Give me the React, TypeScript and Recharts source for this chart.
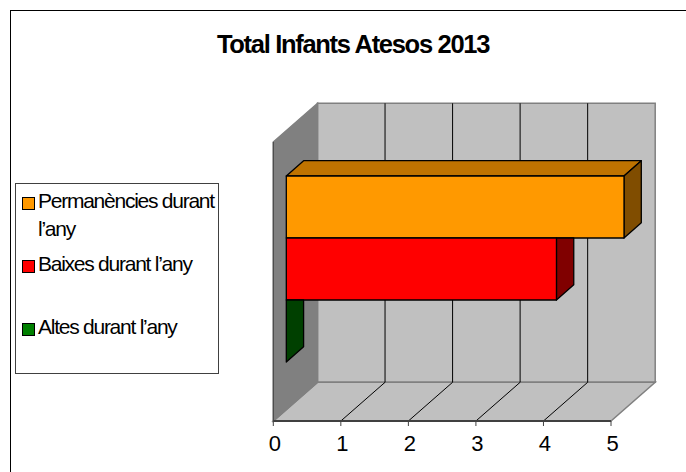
import React from "react";
import { BarChart, Bar, XAxis, YAxis, Legend, usePlotArea } from "recharts";

const categories = ["2013"];
const permanencies = [5];
const baixes = [4];
const altes = [0];
const axisTicks = [0, 1, 2, 3, 4, 5];
const title = "Total Infants Atesos 2013";
const seriesNames = {
  permanencies: "Permanències durant l’any",
  baixes: "Baixes durant l’any",
  altes: "Altes durant l’any",
};
const data = categories.map((c, i) => ({
  category: c,
  permanencies: permanencies[i],
  baixes: baixes[i],
  altes: altes[i],
}));

const W = 686;
const H = 472;
const FONT = "'Liberation Sans', Arial, sans-serif";
// offsets of the bar plane relative to the front of the 3D box, and to its back
const FRONT = { dx: -13, dy: 12 };
const BACK = { dx: 31.2, dy: -26.7 };
const BAR_DEPTH = { dx: 17.3, dy: -15.3 };

function darker(hex: string, f: number) {
  const n = parseInt(hex.slice(1), 16);
  const c = (s: number) => Math.round(((n >> s) & 255) * f);
  return `rgb(${c(16)},${c(8)},${c(0)})`;
}

function Frame() {
  const p = usePlotArea();
  if (!p) return null;
  const xAt = (v: number) => p.x + (p.width * v) / axisTicks[axisTicks.length - 1];
  const l = p.x + FRONT.dx;
  const r = p.x + p.width + FRONT.dx;
  const fy = p.y + p.height + FRONT.dy;
  const ft = p.y + FRONT.dy;
  const bl = p.x + BACK.dx;
  const br = p.x + p.width + BACK.dx;
  const by = p.y + p.height + BACK.dy;
  const bt = p.y + BACK.dy;
  const edge = "#808080";
  return (
    <g>
      <polygon points={`${bl},${bt} ${br},${bt} ${br},${by} ${bl},${by}`} fill="#c0c0c0" stroke={edge} strokeWidth={1.5} />
      <polygon points={`${l},${fy} ${r},${fy} ${br},${by} ${bl},${by}`} fill="#c0c0c0" stroke={edge} strokeWidth={1.5} />
      <polygon points={`${l},${ft} ${bl},${bt} ${bl},${by} ${l},${fy}`} fill="#808080" stroke={edge} strokeWidth={1.5} />
      <line x1={l} y1={ft} x2={l} y2={fy} stroke="#404040" strokeWidth={1} />
      {axisTicks.slice(1, -1).map((v) => (
        <g key={v}>
          <line x1={xAt(v) + FRONT.dx} y1={fy} x2={xAt(v) + BACK.dx} y2={by} stroke="#000" strokeWidth={1} />
          <line x1={xAt(v) + BACK.dx} y1={by} x2={xAt(v) + BACK.dx} y2={bt} stroke="#000" strokeWidth={1} />
        </g>
      ))}
      <line x1={l} y1={fy} x2={r} y2={fy} stroke="#404040" strokeWidth={2} />
    </g>
  );
}

function Tick(props: any) {
  const { x, payload } = props;
  const px = x + FRONT.dx;
  return (
    <g>
      <line x1={px} y1={421} x2={px} y2={426} stroke="#404040" strokeWidth={1} />
      <text x={px + 1.5} y={451} textAnchor="middle" fontFamily={FONT} fontSize={22} fill="#000">
        {payload.value}
      </text>
    </g>
  );
}

function Box3D(props: any) {
  const { x, y, width, height, fill, covered } = props;
  const { dx, dy } = BAR_DEPTH;
  const side = covered
    ? `${x + width},${y} ${x + width + dx},${y} ${x + width + dx},${y + height + dy} ${x + width},${y + height}`
    : `${x + width},${y} ${x + width + dx},${y + dy} ${x + width + dx},${y + height + dy} ${x + width},${y + height}`;
  return (
    <g stroke="#000" strokeWidth={1.3} strokeLinejoin="round">
      {!covered && (
        <polygon points={`${x},${y} ${x + dx},${y + dy} ${x + width + dx},${y + dy} ${x + width},${y}`} fill={darker(fill, 0.75)} />
      )}
      <polygon points={side} fill={darker(fill, 0.5)} />
      {width > 0 && <rect x={x} y={y} width={width} height={height} fill={fill} />}
    </g>
  );
}

function LegendBox(props: any) {
  const { payload } = props;
  return (
    <div
      style={{
        boxSizing: "border-box",
        width: 204,
        height: 191,
        background: "#fff",
        border: "1px solid #404040",
        position: "relative",
        fontFamily: FONT,
        fontSize: 21,
        letterSpacing: -1.25,
        color: "#000",
      }}
    >
      {(payload || []).map((e: any, i: number) => (
        <div key={e.value} style={{ position: "absolute", left: 22.5, top: 2.5 + i * 63, width: 180, lineHeight: "28px" }}>
          <span
            style={{
              position: "absolute",
              left: -16.5,
              top: 10.5,
              width: 11,
              height: 11,
              background: e.color,
              border: "1px solid #000",
            }}
          />
          {e.value}
        </div>
      ))}
    </div>
  );
}

export default function App() {
  return (
    <div style={{ position: "absolute", left: 0, top: 0, width: W, height: H, overflow: "hidden", background: "#fff" }}>
      <div
        style={{
          position: "absolute",
          left: 10,
          top: 10,
          width: W,
          height: H,
          border: "1px solid #000",
        }}
      />
      <BarChart
        width={W}
        height={H}
        data={data}
        layout="vertical"
        margin={{ top: 130, left: 286.3, right: 62, bottom: 33 }}
        barGap={0}
        barCategoryGap={46}
        style={{ position: "absolute", left: 0, top: 0 }}
      >
        <Frame />
        <text x={353} y={53} textAnchor="middle" fontFamily={FONT} fontSize={25.5} fontWeight="bold" letterSpacing={-1.3} fill="#000">
          {title}
        </text>
        <XAxis type="number" domain={[0, 5]} ticks={axisTicks} axisLine={false} tickLine={false} tick={<Tick />} height={30} interval={0} />
        <YAxis type="category" dataKey="category" hide />
        <Legend
          layout="vertical"
          align="center"
          verticalAlign="middle"
          itemSorter={null}
          content={<LegendBox />}
          wrapperStyle={{ position: "absolute", left: 14.5, top: 183, width: 204, height: 191 }}
        />
        <Bar dataKey="permanencies" name={seriesNames.permanencies} fill="#ff9900" isAnimationActive={false} shape={<Box3D />} />
        <Bar dataKey="baixes" name={seriesNames.baixes} fill="#ff0000" isAnimationActive={false} shape={<Box3D covered />} />
        <Bar dataKey="altes" name={seriesNames.altes} fill="#008000" isAnimationActive={false} shape={<Box3D covered />} />
      </BarChart>
    </div>
  );
}
